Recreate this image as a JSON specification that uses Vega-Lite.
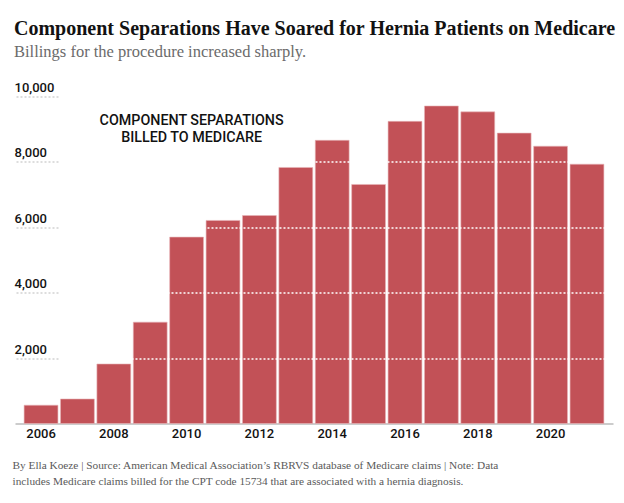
{
  "$schema": "https://vega.github.io/schema/vega-lite/v6.json",
  "width": 598,
  "height": 327,
  "autosize": {"type": "none"},
  "padding": {"left": 15, "top": 96.5, "right": 11, "bottom": 79.5},
  "background": "white",
  "title": {
    "text": "Component Separations Have Soared for Hernia Patients on Medicare",
    "subtitle": "Billings for the procedure increased sharply.",
    "anchor": "start",
    "frame": "group",
    "font": "Liberation Serif",
    "fontSize": 20,
    "fontWeight": "bold",
    "color": "#121212",
    "subtitleFont": "Liberation Serif",
    "subtitleFontSize": 16.5,
    "subtitleColor": "#6b6b6b",
    "subtitlePadding": 5,
    "offset": 21,
    "dx": -1
  },
  "datasets": {
    "bars": [
      {"year": 2006, "value": 560},
      {"year": 2007, "value": 750},
      {"year": 2008, "value": 1820},
      {"year": 2009, "value": 3100},
      {"year": 2010, "value": 5700},
      {"year": 2011, "value": 6210},
      {"year": 2012, "value": 6360},
      {"year": 2013, "value": 7830},
      {"year": 2014, "value": 8660},
      {"year": 2015, "value": 7310},
      {"year": 2016, "value": 9240},
      {"year": 2017, "value": 9710},
      {"year": 2018, "value": 9530},
      {"year": 2019, "value": 8880},
      {"year": 2020, "value": 8480},
      {"year": 2021, "value": 7930}
    ],
    "note": [
      {"year": 2010, "value": 9240, "label": "COMPONENT SEPARATIONS\nBILLED TO MEDICARE"}
    ]
  },
  "layer": [
    {
      "data": {"name": "bars"},
      "mark": {"type": "bar", "color": "#c25157", "stroke": "#e8b5b8", "strokeWidth": 0.6},
      "encoding": {
        "x": {
          "field": "year",
          "type": "ordinal",
          "scale": {"paddingInner": 0.07, "paddingOuter": 0.25},
          "axis": {
            "values": [2006, 2008, 2010, 2012, 2014, 2016, 2018, 2020],
            "labelAngle": 0,
            "ticks": false,
            "labelPadding": 4,
            "labelFont": "Roboto",
            "labelFontWeight": 500,
            "labelFontSize": 13,
            "labelColor": "#121212",
            "domainColor": "#999999",
            "domainWidth": 1,
            "title": [
              "By Ella Koeze | Source: American Medical Association’s RBRVS database of Medicare claims | Note: Data",
              "includes Medicare claims billed for the CPT code 15734 that are associated with a hernia diagnosis."
            ],
            "titleFont": "Liberation Serif",
            "titleFontSize": 11.3,
            "titleFontWeight": "normal",
            "titleColor": "#5a5a5a",
            "titleAnchor": "start",
            "titleAlign": "left",
            "titleBaseline": "alphabetic",
            "titleLineHeight": 16,
            "titleX": -3,
            "titleY": 45
          }
        },
        "y": {
          "field": "value",
          "type": "quantitative",
          "scale": {"domain": [0, 10000], "nice": false},
          "axis": {
            "values": [2000, 4000, 6000, 8000, 10000],
            "format": ",.0f",
            "title": null,
            "domain": false,
            "offset": -43,
            "tickSize": 44,
            "tickColor": "#bbbbbb",
            "tickDash": [2, 2],
            "tickWidth": 1,
            "labelAlign": "left",
            "labelBaseline": "alphabetic",
            "labelPadding": 0,
            "labelOffset": -5,
            "labelFont": "Roboto",
            "labelFontWeight": 500,
            "labelFontSize": 13,
            "labelColor": "#121212",
            "grid": true,
            "gridColor": "#ffffff",
            "gridDash": [2, 2],
            "gridWidth": 1.5,
            "zindex": 1
          }
        }
      }
    },
    {
      "data": {"name": "note"},
      "mark": {
        "type": "text",
        "font": "Roboto",
        "fontWeight": 500,
        "fontSize": 14.3,
        "color": "#121212",
        "lineBreak": "\n",
        "lineHeight": 17,
        "align": "center",
        "baseline": "middle",
        "dx": 5
      },
      "encoding": {
        "x": {"field": "year", "type": "ordinal"},
        "y": {"field": "value", "type": "quantitative"},
        "text": {"field": "label"}
      }
    }
  ],
  "config": {
    "view": {"stroke": null}
  }
}
